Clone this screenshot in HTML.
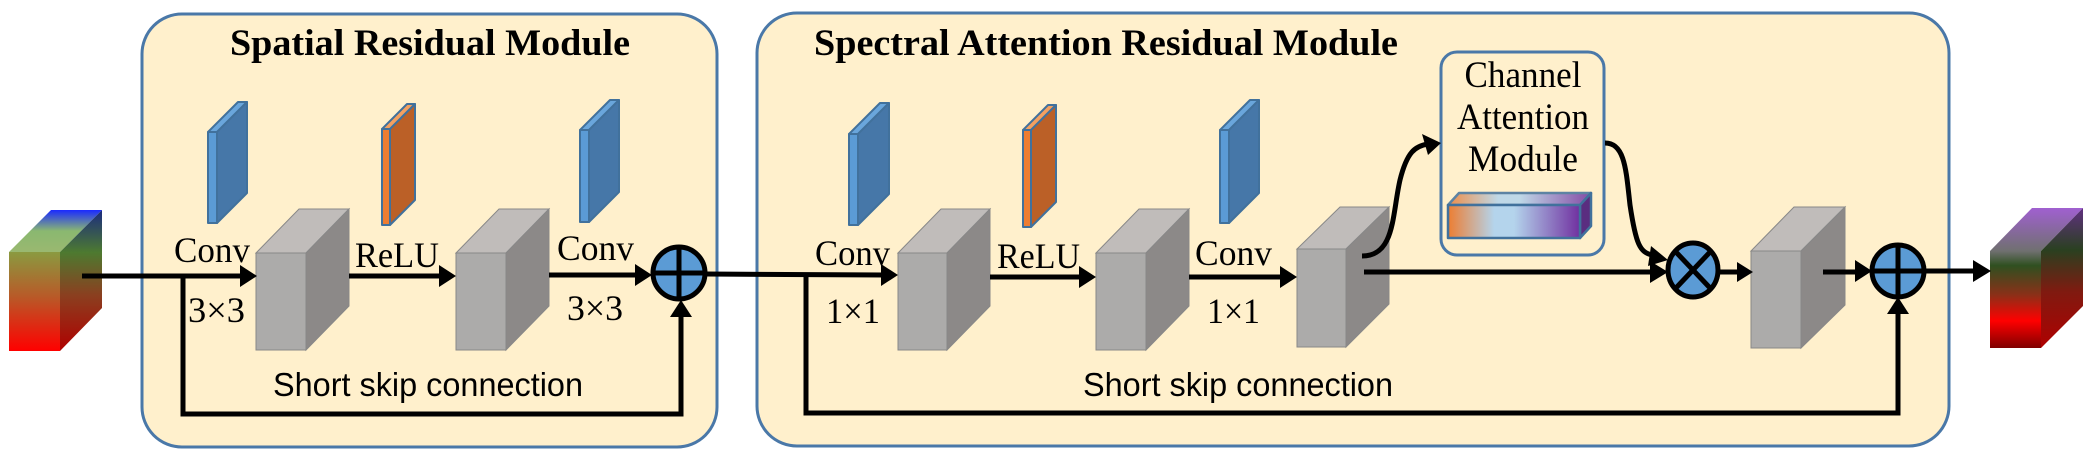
<!DOCTYPE html>
<html><head><meta charset="utf-8"><style>
html,body{margin:0;padding:0;background:#fff}
svg{display:block}
.t{font-family:"Liberation Serif",serif;fill:#000}
.s{font-family:"Liberation Sans",sans-serif;fill:#000}
.gf{fill:#acabaa;stroke:#888;stroke-width:1}
.gt{fill:#c0bcba;stroke:#888;stroke-width:1}
.gs{fill:#8c8988;stroke:#888;stroke-width:1}
.ln{stroke:#000;stroke-width:5;fill:none}
</style></head><body>
<svg width="2100" height="454" viewBox="0 0 2100 454" xmlns="http://www.w3.org/2000/svg">
<defs>
<linearGradient id="inF" x1="0" y1="0" x2="0" y2="1"><stop offset="0" stop-color="#8a9a40"/><stop offset="0.45" stop-color="#b85a28"/><stop offset="1" stop-color="#ff0000"/></linearGradient>
<linearGradient id="inS" x1="0" y1="0" x2="0" y2="1"><stop offset="0" stop-color="#1a2a80"/><stop offset="0.3" stop-color="#4d7a30"/><stop offset="0.6" stop-color="#8a4020"/><stop offset="1" stop-color="#b00000"/></linearGradient>
<linearGradient id="inT" x1="0" y1="0" x2="0" y2="1"><stop offset="0" stop-color="#1a2aff"/><stop offset="0.5" stop-color="#8ab870"/><stop offset="1" stop-color="#9ab870"/></linearGradient>
<linearGradient id="outF" x1="0" y1="0" x2="0" y2="1"><stop offset="0" stop-color="#707070"/><stop offset="0.15" stop-color="#2f5020"/><stop offset="0.45" stop-color="#8a3018"/><stop offset="0.72" stop-color="#ff0000"/><stop offset="1" stop-color="#800000"/></linearGradient>
<linearGradient id="outS" x1="0" y1="0" x2="0" y2="1"><stop offset="0" stop-color="#603080"/><stop offset="0.3" stop-color="#2a4020"/><stop offset="0.6" stop-color="#801a10"/><stop offset="1" stop-color="#b00000"/></linearGradient>
<linearGradient id="outT" x1="0" y1="0" x2="0" y2="1"><stop offset="0" stop-color="#a060d0"/><stop offset="1" stop-color="#707070"/></linearGradient>
<linearGradient id="bar" x1="0" y1="0" x2="1" y2="0"><stop offset="0" stop-color="#ed7d31"/><stop offset="0.35" stop-color="#b4d4ec"/><stop offset="0.5" stop-color="#b4d4ec"/><stop offset="1" stop-color="#7030a0"/></linearGradient>
</defs>

<rect x="142" y="14" width="575" height="433" rx="40" fill="#fff0cc" stroke="#4a78a8" stroke-width="3"/>
<rect x="757" y="13" width="1192" height="433" rx="40" fill="#fff0cc" stroke="#4a78a8" stroke-width="3"/>
<text class="t" x="430" y="55" font-size="37" font-weight="bold" text-anchor="middle" textLength="400" lengthAdjust="spacingAndGlyphs">Spatial Residual Module</text>
<text class="t" x="814" y="55" font-size="37" font-weight="bold" textLength="584" lengthAdjust="spacingAndGlyphs">Spectral Attention Residual Module</text>

<polygon points="9,252 51,210 102,210 60,252" fill="url(#inT)"/>
<polygon points="60,252 102,210 102,308 60,351" fill="url(#inS)"/>
<rect x="9" y="252" width="51" height="99" fill="url(#inF)"/>

<polygon points="1990,251 2032,208 2083,208 2041,251" fill="url(#outT)"/>
<polygon points="2041,251 2083,208 2083,306 2041,348" fill="url(#outS)"/>
<rect x="1990" y="251" width="51" height="97" fill="url(#outF)"/>

<g>
<polygon class="gt" points="256,253 299,209 349,209 306,253"/><polygon class="gs" points="306,253 349,209 349,306 306,350"/><rect class="gf" x="256" y="253" width="50" height="97"/>
<polygon class="gt" points="456,253 499,209 549,209 506,253"/><polygon class="gs" points="506,253 549,209 549,306 506,350"/><rect class="gf" x="456" y="253" width="50" height="97"/>
<polygon class="gt" points="898,253 941,209 990,209 947,253"/><polygon class="gs" points="947,253 990,209 990,306 947,350"/><rect class="gf" x="898" y="253" width="49" height="97"/>
<polygon class="gt" points="1096,253 1139,209 1189,209 1146,253"/><polygon class="gs" points="1146,253 1189,209 1189,306 1146,350"/><rect class="gf" x="1096" y="253" width="50" height="97"/>
<polygon class="gt" points="1297,249 1340,207 1389,207 1346,249"/><polygon class="gs" points="1346,249 1389,207 1389,304 1346,347"/><rect class="gf" x="1297" y="249" width="49" height="98"/>
<polygon class="gt" points="1751,251 1794,207 1845,207 1801,251"/><polygon class="gs" points="1801,251 1845,207 1845,305 1801,348"/><rect class="gf" x="1751" y="251" width="50" height="97"/>
</g>

<g stroke="#41719c" stroke-width="2" stroke-linejoin="round">
<polygon points="208,132 238,102 247,102 217,132" fill="#6aa6dc"/><polygon points="217,132 247,102 247,193 217,223" fill="#4677a8"/><rect x="208" y="132" width="9" height="91" fill="#5b9bd5"/>
<polygon points="580,130 610,100 619,100 589,130" fill="#6aa6dc"/><polygon points="589,130 619,100 619,192 589,222" fill="#4677a8"/><rect x="580" y="130" width="9" height="92" fill="#5b9bd5"/>
<polygon points="849,134 880,103 889,103 858,134" fill="#6aa6dc"/><polygon points="858,134 889,103 889,194 858,225" fill="#4677a8"/><rect x="849" y="134" width="9" height="91" fill="#5b9bd5"/>
<polygon points="1220,130 1250,100 1259,100 1229,130" fill="#6aa6dc"/><polygon points="1229,130 1259,100 1259,193 1229,223" fill="#4677a8"/><rect x="1220" y="130" width="9" height="93" fill="#5b9bd5"/>
<polygon points="382,129 407,104 415,104 390,129" fill="#f4a060"/><polygon points="390,129 415,104 415,200 390,225" fill="#bb6027"/><rect x="382" y="129" width="8" height="96" fill="#ed7d31"/>
<polygon points="1023,130 1048,105 1056,105 1031,130" fill="#f4a060"/><polygon points="1031,130 1056,105 1056,202 1031,227" fill="#bb6027"/><rect x="1023" y="130" width="8" height="97" fill="#ed7d31"/>
</g>

<rect x="1441" y="52" width="163" height="203" rx="16" fill="#fff0cc" stroke="#4a78a8" stroke-width="3"/>
<text class="t" x="1523" y="87" font-size="37" text-anchor="middle" textLength="117" lengthAdjust="spacingAndGlyphs">Channel</text>
<text class="t" x="1523" y="129" font-size="37" text-anchor="middle" textLength="132" lengthAdjust="spacingAndGlyphs">Attention</text>
<text class="t" x="1523" y="171" font-size="37" text-anchor="middle" textLength="110" lengthAdjust="spacingAndGlyphs">Module</text>
<g stroke="#41719c" stroke-width="2.5" stroke-linejoin="round">
<polygon points="1448,205 1459,193 1591,193 1580,205" fill="url(#bar)" opacity="0.85"/>
<polygon points="1580,205 1591,193 1591,226 1580,238" fill="#5a2d80"/>
<rect x="1448" y="205" width="132" height="33" fill="url(#bar)"/>
</g>

<g class="ln">
<line x1="82" y1="276" x2="242" y2="276"/>
<line x1="349" y1="276" x2="442" y2="276"/>
<line x1="549" y1="275" x2="638" y2="275"/>
<polyline points="183,276 183,414 681,414 681,314"/>
<line x1="706" y1="274" x2="884" y2="275"/>
<line x1="990" y1="277" x2="1082" y2="277"/>
<line x1="1189" y1="277" x2="1283" y2="277"/>
<polyline points="806,275 806,413 1898,413 1898,312"/>
<line x1="1364" y1="272" x2="1652" y2="272"/>
<path d="M1362,256 C1395,256 1392,215 1400,180 C1407,152 1415,146 1428,144"/>
<path d="M1605,143 C1625,143 1626,170 1630,205 C1636,245 1640,252 1652,255"/>
<line x1="1720" y1="272" x2="1740" y2="272"/>
<line x1="1823" y1="272" x2="1858" y2="272"/>
<line x1="1925" y1="271" x2="1977" y2="271"/>
</g>
<g fill="#000">
<polygon points="257,276 240,265 240,287"/>
<polygon points="456,276 439,265 439,287"/>
<polygon points="652,275 635,264 635,286"/>
<polygon points="681,300 670,317 692,317"/>
<polygon points="898,275 881,264 881,286"/>
<polygon points="1096,277 1079,266 1079,288"/>
<polygon points="1297,277 1280,266 1280,288"/>
<polygon points="1668,272 1650,261 1650,283"/>
<polygon points="1441,143 1422,134 1428,155"/>
<polygon points="1668,260 1651,246 1648,266"/>
<polygon points="1753,272 1737,262 1737,282"/>
<polygon points="1872,271 1855,260 1855,282"/>
<polygon points="1898,297 1887,314 1909,314"/>
<polygon points="1991,271 1973,260 1973,282"/>
</g>

<g stroke="#000" stroke-width="5" fill="#5b9bd5">
<circle cx="679" cy="273" r="26"/>
<line x1="653" y1="273" x2="705" y2="273"/><line x1="679" y1="247" x2="679" y2="299"/>
<circle cx="1898" cy="271" r="26"/>
<line x1="1872" y1="271" x2="1924" y2="271"/><line x1="1898" y1="245" x2="1898" y2="297"/>
<ellipse cx="1693" cy="270" rx="25" ry="27"/>
<line x1="1675" y1="251" x2="1711" y2="289"/><line x1="1711" y1="251" x2="1675" y2="289"/>
</g>

<g class="t" font-size="36">
<text x="174" y="262" textLength="76" lengthAdjust="spacingAndGlyphs">Conv</text>
<text x="188" y="322" textLength="57" lengthAdjust="spacingAndGlyphs">3×3</text>
<text x="355" y="267" textLength="84" lengthAdjust="spacingAndGlyphs">ReLU</text>
<text x="557" y="260" textLength="77" lengthAdjust="spacingAndGlyphs">Conv</text>
<text x="567" y="320" textLength="56" lengthAdjust="spacingAndGlyphs">3×3</text>
<text x="815" y="265" textLength="75" lengthAdjust="spacingAndGlyphs">Conv</text>
<text x="826" y="323" textLength="54" lengthAdjust="spacingAndGlyphs">1×1</text>
<text x="997" y="268" textLength="83" lengthAdjust="spacingAndGlyphs">ReLU</text>
<text x="1195" y="265" textLength="77" lengthAdjust="spacingAndGlyphs">Conv</text>
<text x="1207" y="323" textLength="53" lengthAdjust="spacingAndGlyphs">1×1</text>
</g>
<text class="s" x="273" y="396" font-size="33" textLength="310" lengthAdjust="spacingAndGlyphs">Short skip connection</text>
<text class="s" x="1083" y="396" font-size="33" textLength="310" lengthAdjust="spacingAndGlyphs">Short skip connection</text>
</svg>
</body></html>
